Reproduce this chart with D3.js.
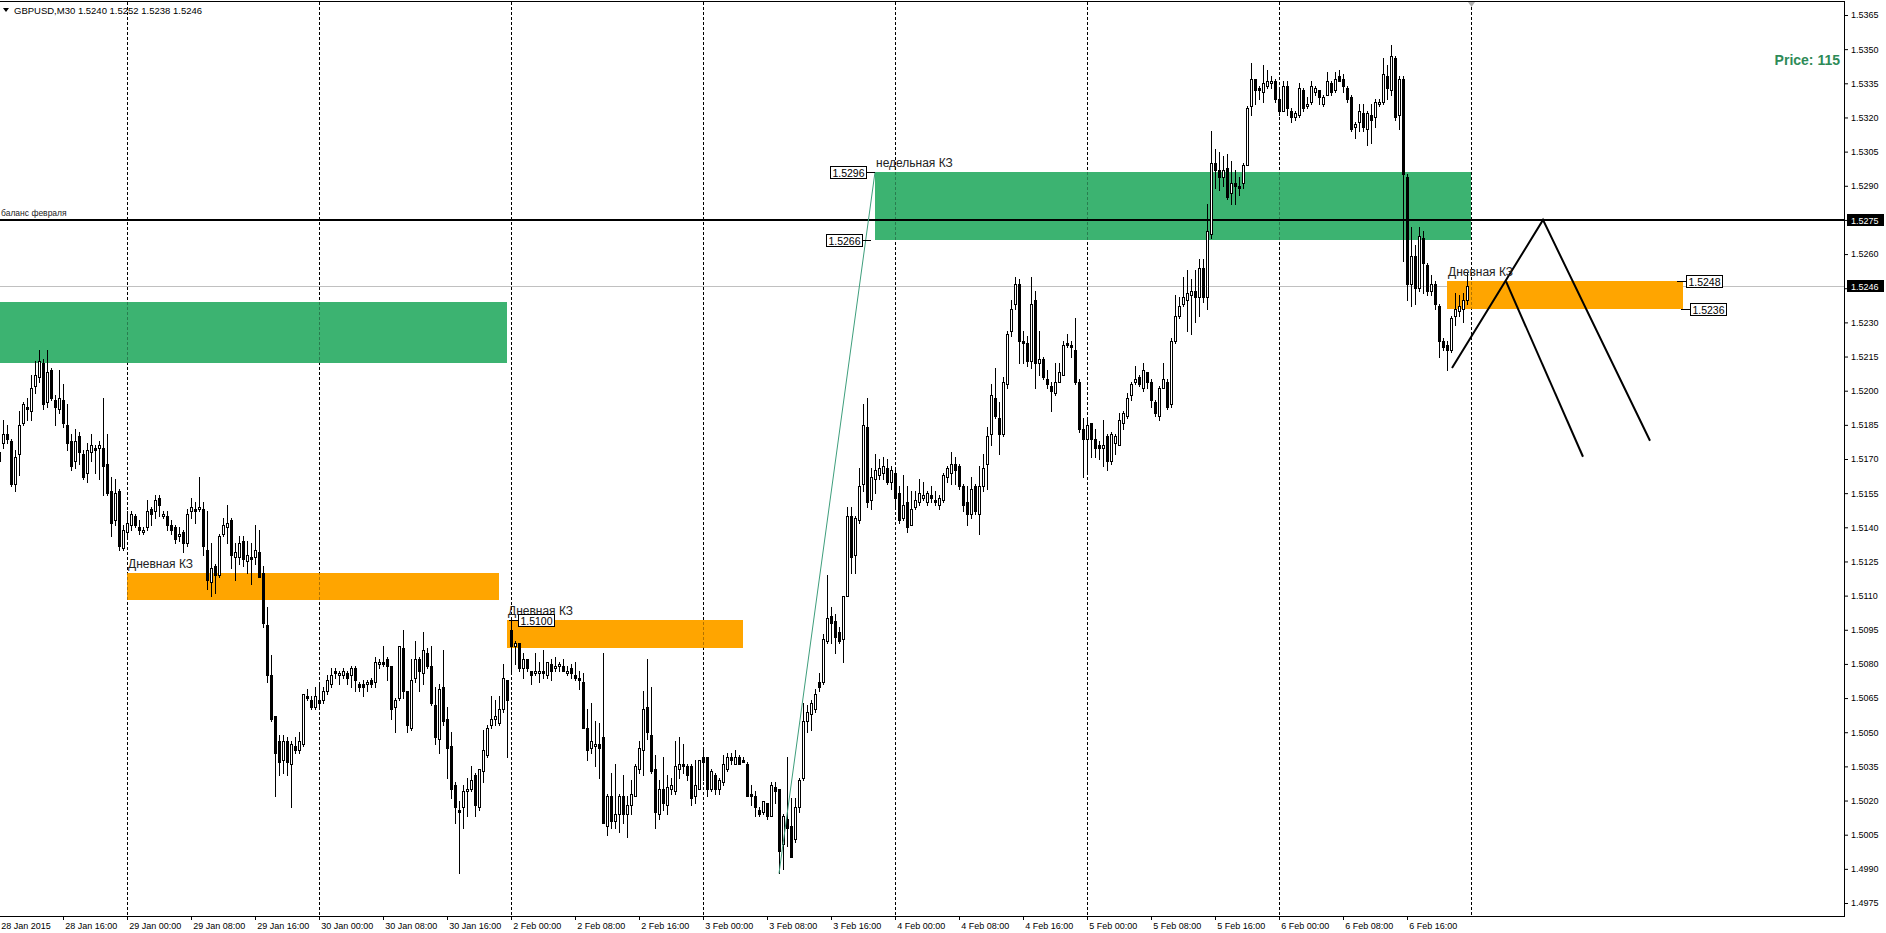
<!DOCTYPE html>
<html><head><meta charset="utf-8">
<script src="https://cdn.jsdelivr.net/npm/d3@7"></script>
<style>
html,body{margin:0;padding:0;background:#fff;overflow:hidden;}
svg{display:block;}
text{font-family:"Liberation Sans",Arial,sans-serif;}
</style></head><body>
<svg id="chart" width="1886" height="933"></svg>
<script>
// ---------- DATA (GBPUSD M30, prices as pips above 1.5000) ----------
const symbolTitle = "GBPUSD,M30  1.5240 1.5252 1.5238 1.5246";
const basePrice = 1.5000;
const firstBar = 16;   // bar index of first candle (bar 0 = 28 Jan 00:00)
const openPips = [
173,177,181,178,159,172,186,193,191,202,
206,212,195,209,196,192,196,185,178,169,
180,172,164,173,175,175,175,168,156,143,
156,131,138,141,145,140,138,140,148,147,
153,145,145,141,140,136,138,133,147,148,
148,148,130,116,123,119,137,140,143,127,
127,134,125,127,127,129,120,97,75,57,
46,38,46,36,44,42,45,66,64,61,
64,64,68,71,77,75,75,76,75,78,
71,71,71,73,72,80,81,82,79,61,
65,87,68,52,74,82,76,85,79,62,
47,70,56,44,27,16,17,24,25,31,
17,33,40,53,56,54,60,73,95,88,
89,78,82,77,76,76,77,75,80,78,
79,79,76,78,75,74,72,52,43,44,
45,48,9,22,11,14,22,14,18,22,
34,42,61,49,34,14,25,18,25,24,
34,36,35,35,22,25,39,39,25,31,
25,28,34,39,36,39,38,36,23,22,
16,15,19,13,26,25,1,12,9,3,
17,30,55,58,60,72,72,90,101,99,
94,91,110,145,128,143,159,184,152,161,
163,164,166,160,164,155,144,151,141,149,
151,153,151,154,152,150,152,162,164,168,
167,158,151,146,158,146,158,168,181,197,
188,181,203,226,238,247,222,221,213,240,
212,214,205,202,199,204,207,221,220,218,
204,183,179,186,179,176,175,180,169,177,
176,186,189,198,204,206,201,208,204,195,
189,201,204,194,222,233,238,240,242,244,
241,254,241,269,300,297,294,298,287,291,
290,291,299,325,337,333,331,334,335,336,
328,323,334,323,320,321,332,325,327,331,
332,326,330,335,332,338,337,333,329,316,
318,322,315,321,320,326,327,338,332,346,
321,337,294,247,259,245,267,255,244,247,
237,222,220,218,233,235,236,240];
const highPips = [
177,187,185,179,174,191,195,197,207,213,
218,214,218,210,198,209,203,194,181,183,
182,174,177,181,176,178,197,181,162,161,
157,141,147,147,146,143,140,152,149,154,
154,147,147,143,141,140,139,148,153,151,
162,151,147,133,124,137,144,150,144,133,
136,136,134,133,141,139,123,105,84,57,
49,49,48,46,48,50,67,69,66,70,
71,70,75,78,78,77,78,77,79,79,
72,73,73,74,83,82,88,83,79,65,
88,95,68,82,90,83,94,87,88,70,
71,86,61,50,28,20,27,30,35,32,
34,51,53,66,64,66,80,73,100,90,
89,85,82,77,85,81,86,81,82,83,
81,82,79,80,81,77,76,60,63,55,
54,85,23,32,36,23,31,22,29,36,
46,68,82,70,40,29,39,31,30,46,
48,45,36,36,38,38,42,39,34,32,
30,40,41,41,42,40,39,37,27,24,
17,20,19,28,28,25,14,39,21,21,
30,63,62,64,69,76,93,119,105,102,
96,110,149,149,145,166,194,197,166,172,
170,171,170,167,165,158,163,158,156,156,
161,160,156,158,156,154,164,167,173,171,
168,159,158,162,159,167,172,184,203,210,
195,206,226,240,250,249,226,224,250,244,
226,215,209,204,212,212,222,225,222,232,
205,188,187,186,183,178,187,181,182,181,
190,191,199,204,211,207,212,208,205,196,
202,212,205,223,242,241,250,253,249,253,
258,258,282,314,306,305,303,304,301,297,
294,300,325,344,337,334,343,341,338,337,
333,336,336,324,323,335,333,329,336,334,
332,330,340,336,340,341,339,334,330,318,
326,326,323,326,328,328,346,343,352,347,
338,338,295,272,264,272,270,256,251,248,
238,223,222,233,243,242,243,252];
const lowPips = [
166,175,177,158,156,163,185,187,187,199,
204,192,193,196,185,190,184,174,165,166,
168,161,160,169,164,161,154,154,136,141,
130,130,136,139,140,137,137,139,141,144,
145,144,139,137,133,134,129,132,144,142,
147,128,113,110,111,118,136,133,122,117,
124,123,120,115,124,118,96,72,55,22,
31,32,31,17,41,41,44,64,60,60,
60,63,67,70,74,71,74,71,70,68,
68,66,68,70,70,78,79,73,56,50,
64,65,50,51,72,68,71,78,62,45,
41,53,30,21,10,-12,8,13,24,13,
16,28,39,52,53,53,59,39,76,80,
77,74,77,71,75,72,74,74,73,77,
77,77,75,74,73,69,52,38,41,35,
30,10,5,8,8,6,10,4,14,22,
32,31,47,32,8,12,16,14,23,23,
30,32,29,18,19,25,29,22,24,23,
23,27,33,36,36,36,37,22,18,13,
13,14,12,13,19,-12,-10,0,-5,2,
15,29,50,51,59,68,71,89,89,85,
89,81,110,120,120,142,156,149,148,155,
161,161,159,157,149,142,143,138,141,148,
150,152,150,151,150,148,151,160,159,159,
157,147,141,144,146,137,156,157,176,188,
172,180,201,224,236,212,212,211,210,201,
207,205,201,191,198,204,207,219,215,203,
182,162,164,171,171,170,167,165,168,172,
176,183,188,196,203,202,200,201,193,189,
187,201,192,193,221,232,237,226,225,230,
233,239,236,267,289,288,290,284,282,282,
286,289,299,321,326,328,327,333,333,327,
321,323,321,318,319,320,323,324,326,330,
326,325,330,330,331,336,331,327,314,311,
314,314,308,309,316,325,326,328,330,319,
315,257,240,237,238,244,243,242,242,236,
215,218,209,217,229,233,230,238];
const closePips = [
169,181,179,159,171,185,194,192,201,207,
213,194,208,197,193,197,186,177,167,178,
173,162,174,176,174,176,167,155,142,155,
132,139,142,146,141,139,139,147,146,152,
150,146,141,139,135,137,133,146,149,147,
149,132,117,122,119,136,141,142,128,129,
133,126,128,126,130,118,98,75,56,41,
37,46,37,45,42,46,67,65,61,66,
63,68,73,75,76,76,77,74,78,73,
70,70,72,71,81,81,80,79,60,64,
88,68,53,73,82,77,86,79,63,48,
69,55,43,25,17,15,24,25,29,18,
34,42,52,56,57,60,74,64,88,89,
78,82,78,75,77,77,76,81,77,79,
80,77,77,76,74,73,52,42,46,45,
43,10,22,11,14,22,14,18,23,35,
43,60,50,33,15,25,19,26,27,35,
36,35,31,21,27,38,37,25,33,25,
29,36,39,38,39,36,37,22,22,17,
14,20,13,27,24,-2,13,8,-5,17,
29,55,59,63,67,70,91,100,98,92,
90,110,145,127,144,158,185,151,162,165,
166,167,160,165,153,143,150,140,148,152,
155,154,155,153,151,153,163,166,168,165,
158,150,146,157,147,158,166,180,198,189,
181,204,225,236,247,222,221,213,238,212,
214,206,203,200,204,208,220,220,219,204,
183,179,185,179,175,175,176,169,181,180,
187,190,197,203,205,203,209,204,196,190,
201,205,193,222,233,237,241,243,244,241,
254,241,270,300,297,294,297,285,291,290,
289,299,324,337,332,332,335,336,336,328,
323,334,324,320,322,333,324,326,334,333,
329,329,336,331,337,336,334,328,315,317,
323,316,322,319,327,327,339,333,347,320,
337,295,247,259,245,268,256,244,247,238,
222,219,218,232,236,237,240,246];

// axis ticks
const yTickValues = [1.4975,1.4990,1.5005,1.5020,1.5035,1.5050,1.5065,1.5080,1.5095,1.5110,1.5125,1.5140,1.5155,1.5170,1.5185,1.5200,1.5215,1.5230,1.5245,1.5260,1.5275,1.5290,1.5305,1.5320,1.5335,1.5350,1.5365];
const xTickBars = [16,32,48,64,80,96,112,128,144,160,176,192,208,224,240,256,272,288,304,320,336,352,368];
const xTickLabels = ["28 Jan 2015","28 Jan 16:00","29 Jan 00:00","29 Jan 08:00","29 Jan 16:00","30 Jan 00:00","30 Jan 08:00","30 Jan 16:00","2 Feb 00:00","2 Feb 08:00","2 Feb 16:00","3 Feb 00:00","3 Feb 08:00","3 Feb 16:00","4 Feb 00:00","4 Feb 08:00","4 Feb 16:00","5 Feb 00:00","5 Feb 08:00","5 Feb 16:00","6 Feb 00:00","6 Feb 08:00","6 Feb 16:00"];
const daySeparatorBars = [48,96,144,192,240,288,336,384];
const chartShiftBar = 384;

// zones (supply/demand)
const zoneStartBar = [10,48,143,235,378];
const zoneEndBar   = [143,141,202,384,437];
const zoneTop      = [1.5239,1.5120,1.50995,1.5296,1.5248];
const zoneBottom   = [1.5212,1.5108,1.5087,1.5266,1.5236];
const zoneKind     = ["week","day","day","week","day"];
const zoneLabel    = ["","Дневная КЗ","Дневная КЗ","недельная КЗ","Дневная КЗ"];

// price label objects
const priceLabelText  = ["1.5296","1.5266","1.5248","1.5236","1.5100"];
const priceLabelValue = [1.5296,1.5266,1.5248,1.5236,1.50995];
const priceLabelBar   = [235,234,435.5,436.5,143.5];
const priceLabelSide  = ["left","left","right","right","right"];

// horizontal levels
const balanceLevel = 1.5275;
const balanceText = "баланс февраля";
const bidLevel = 1.5246;

// trend lines
const trendBars = [211,235];
const trendPrices = [1.4988,1.5296];
const scenarioABars = [379.25,402,428.75];
const scenarioAPrices = [1.5210,1.5275,1.5178];
const scenarioBBars = [392.75,412];
const scenarioBPrices = [1.5248,1.5171];
const priceNote = "Price: 115";

// ---------- DRAW ----------
const svg = d3.select("#chart");
const plotRight = 1844, plotTop = 2, plotBottom = 916;
const x = d3.scaleLinear().domain([16.25, 477.25]).range([0, 1844]);
const y = d3.scaleLinear().domain([1.4975, 1.5365]).range([903, 15]);
const price = p => +(basePrice + p / 10000).toFixed(5);

const bars = openPips.map((o, i) => ({
  k: firstBar + i, o: price(o), h: price(highPips[i]), l: price(lowPips[i]), c: price(closePips[i])
}));

svg.append("rect").attr("width",1886).attr("height",933).attr("fill","#fff");
svg.append("defs").append("clipPath").attr("id","plotclip")
  .append("rect").attr("x",0).attr("y",plotTop).attr("width",plotRight).attr("height",plotBottom-plotTop);
const plot = svg.append("g").attr("clip-path","url(#plotclip)");
const px = v => Math.round(x(v));
const py = v => Math.round(y(v));

// bid line
plot.append("line").attr("x1",0).attr("x2",plotRight).attr("y1",py(bidLevel)+0.5).attr("y2",py(bidLevel)+0.5)
  .attr("stroke","#c0c0c0").attr("stroke-width",1);

// day separators
function drawSeparators(op){
  plot.append("g").selectAll("line").data(daySeparatorBars).join("line")
    .attr("x1",d=>px(d)+0.5).attr("x2",d=>px(d)+0.5).attr("y1",plotTop).attr("y2",plotBottom)
    .attr("stroke","#000").attr("stroke-width",1).attr("stroke-dasharray","3,2").attr("stroke-opacity",op)
    .attr("shape-rendering","crispEdges");
}
drawSeparators(1);

// zones
const zoneIdx = d3.range(zoneStartBar.length);
plot.append("g").selectAll("rect").data(zoneIdx).join("rect")
  .attr("x",i=>px(zoneStartBar[i])).attr("width",i=>px(zoneEndBar[i])-px(zoneStartBar[i]))
  .attr("y",i=>py(zoneTop[i])).attr("height",i=>py(zoneBottom[i])-py(zoneTop[i]))
  .attr("fill",i=>zoneKind[i]==="week"?"#3CB371":"#FFA500").attr("shape-rendering","crispEdges");
drawSeparators(0.3);

// balance line
plot.append("line").attr("x1",0).attr("x2",plotRight).attr("y1",y(balanceLevel)).attr("y2",y(balanceLevel))
  .attr("stroke","#000").attr("stroke-width",2);

// candles
const cg = plot.append("g").attr("shape-rendering","crispEdges");
cg.selectAll("line.wick").data(bars).join("line").attr("class","wick")
  .attr("x1",d=>px(d.k)+0.5).attr("x2",d=>px(d.k)+0.5)
  .attr("y1",d=>py(d.h)).attr("y2",d=>py(d.l)+1)
  .attr("stroke","#000").attr("stroke-width",1);
cg.selectAll("rect.body").data(bars).join("rect").attr("class","body")
  .attr("x",d=>px(d.k)-0.5).attr("width",2)
  .attr("y",d=>py(Math.max(d.o,d.c))+0.5)
  .attr("height",d=>Math.max(0, py(Math.min(d.o,d.c))-py(Math.max(d.o,d.c))))
  .attr("fill",d=>d.c>=d.o?"#fff":"#000").attr("stroke","#000").attr("stroke-width",1);

// trend lines
const lineGen = d3.line().x(d=>x(d[0])).y(d=>y(d[1]));
plot.append("path").datum(trendBars.map((b,i)=>[b,trendPrices[i]])).attr("d",lineGen)
  .attr("fill","none").attr("stroke","#3f9e7c").attr("stroke-width",1);
plot.append("path").datum(scenarioABars.map((b,i)=>[b,scenarioAPrices[i]])).attr("d",lineGen)
  .attr("fill","none").attr("stroke","#000").attr("stroke-width",2);
plot.append("path").datum(scenarioBBars.map((b,i)=>[b,scenarioBPrices[i]])).attr("d",lineGen)
  .attr("fill","none").attr("stroke","#000").attr("stroke-width",2);

// zone labels
plot.append("g").selectAll("text").data(zoneIdx.filter(i=>zoneLabel[i])).join("text")
  .attr("x",i=>px(zoneStartBar[i])+1).attr("y",i=>py(zoneTop[i])-5)
  .attr("font-size",12).attr("fill","#222").text(i=>zoneLabel[i]);

// balance text
plot.append("text").attr("x",1).attr("y",y(balanceLevel)-4).attr("font-size",8.5).attr("fill","#222").text(balanceText);

// price labels
const plg = plot.append("g");
priceLabelText.forEach((t,i)=>{
  const ax = px(priceLabelBar[i]), ay = py(priceLabelValue[i]);
  const bw = 36, bh = 12, gap = 9;
  const bx = priceLabelSide[i]==="left" ? ax-gap-bw : ax+gap;
  plg.append("line").attr("x1",priceLabelSide[i]==="left"?ax-gap:ax).attr("x2",priceLabelSide[i]==="left"?ax:ax+gap)
    .attr("y1",ay+0.5).attr("y2",ay+0.5).attr("stroke","#000").attr("shape-rendering","crispEdges");
  plg.append("rect").attr("x",bx+0.5).attr("y",ay-bh/2+0.5).attr("width",bw).attr("height",bh)
    .attr("fill","#fff").attr("stroke","#000").attr("shape-rendering","crispEdges");
  plg.append("text").attr("x",bx+bw/2+0.5).attr("y",ay+4.5).attr("text-anchor","middle")
    .attr("font-size",10.5).attr("fill","#000").text(t);
});

// chart shift marker
plot.append("path").attr("d",`M${px(chartShiftBar)-3},${plotTop} L${px(chartShiftBar)+4},${plotTop} L${px(chartShiftBar)+0.5},${plotTop+5} Z`)
  .attr("fill","#b0b0b0");

// frame
svg.append("path").attr("d",`M0,${plotTop-0.5}H${plotRight+0.5}V${plotBottom+0.5}H0`)
  .attr("fill","none").attr("stroke","#000").attr("stroke-width",1).attr("shape-rendering","crispEdges");

// y axis
const yAxis = d3.axisRight(y).tickValues(yTickValues).tickSize(3).tickPadding(3).tickFormat(d3.format(".4f"));
const yg = svg.append("g").attr("transform",`translate(${plotRight+1},0)`).call(yAxis);
yg.select(".domain").remove();
yg.selectAll("text").attr("font-size",9).attr("fill","#000").attr("font-family","Liberation Sans, Arial, sans-serif");

// y axis highlighted labels
[[balanceLevel,"1.5275"],[bidLevel,"1.5246"]].forEach(([v,t])=>{
  const yy = py(v);
  svg.append("rect").attr("x",plotRight+3).attr("y",yy-6).attr("width",37).attr("height",12).attr("fill","#000");
  svg.append("text").attr("x",plotRight+7).attr("y",yy+3.5).attr("font-size",9).attr("fill","#fff").text(t);
});

// x axis
const xAxis = d3.axisBottom(x).tickValues(xTickBars).tickSize(4).tickPadding(3).tickFormat((d,i)=>xTickLabels[i]);
const xg = svg.append("g").attr("transform",`translate(0,${plotBottom})`).call(xAxis);
xg.select(".domain").remove();
xg.selectAll("text").attr("font-size",9).attr("fill","#000").attr("text-anchor","start").attr("dx","0.2em")
  .attr("font-family","Liberation Sans, Arial, sans-serif");

// header
svg.append("path").attr("d","M3,8 L9,8 L6,12 Z").attr("fill","#000");
svg.append("text").attr("x",14).attr("y",13.5).attr("font-size",9.5).attr("fill","#000").text(symbolTitle);
svg.append("text").attr("x",1840).attr("y",65).attr("text-anchor","end").attr("font-size",14)
  .attr("font-weight","bold").attr("fill","#2E8B57").text(priceNote);
</script>
</body></html>
